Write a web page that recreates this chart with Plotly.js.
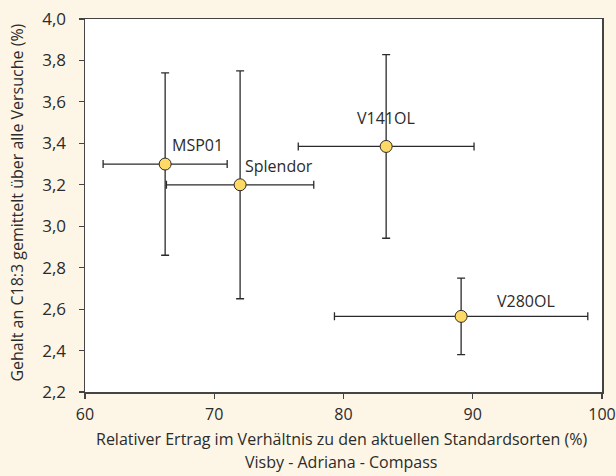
<!DOCTYPE html>
<html>
<head>
<meta charset="utf-8">
<script src="https://cdn.plot.ly/plotly-3.0.1.min.js"></script>
<style>html,body{margin:0;padding:0;background:#FDF6E6;}</style>
</head>
<body>
<div id="chart" style="width:616px;height:476px;"></div>
<script>
const names = ["MSP01", "Splendor", "V141OL", "V280OL"];
const yieldRel = [66.2, 72.0, 83.3, 89.1];
const yieldErr = [4.8, 5.7, 6.8, 9.8];
const c183 = [3.30, 3.20, 3.385, 2.565];
const c183Err = [0.44, 0.55, 0.443, 0.185];
const labelX = [68.7, 75.0, 83.3, 94.1];
const labelY = [3.39, 3.29, 3.52, 2.64];
const xTitle1 = "Relativer Ertrag im Verhältnis zu den aktuellen Standardsorten (%)";
const xTitle2 = "Visby - Adriana - Compass";
const yTitle = "Gehalt an C18:3 gemittelt über alle Versuche (%)";

const FONT = "Open Sans, Noto Sans, sans-serif";
const ink = "#2b2b2b";

const trace = {
  type: "scatter",
  mode: "markers",
  x: yieldRel,
  y: c183,
  error_x: {type: "data", array: yieldErr, visible: true, color: ink, thickness: 1.3, width: 4},
  error_y: {type: "data", array: c183Err, visible: true, color: ink, thickness: 1.3, width: 4},
  marker: {size: 12, color: "#FFD966", line: {color: ink, width: 1}},
  hoverinfo: "skip",
  showlegend: false
};

const annotations = names.map((n, i) => ({
  x: labelX[i], y: labelY[i], xref: "x", yref: "y",
  text: n, showarrow: false,
  font: {family: FONT, size: 16, color: ink}
}));
annotations.push(
  {x: 0.496, y: -0.127, xref: "paper", yref: "paper", xanchor: "center", yanchor: "middle",
   text: xTitle1, showarrow: false, font: {family: FONT, size: 16, color: ink}},
  {x: 0.496, y: -0.188, xref: "paper", yref: "paper", xanchor: "center", yanchor: "middle",
   text: xTitle2, showarrow: false, font: {family: FONT, size: 16, color: ink}},
  {x: -0.1306, y: 0.509, xref: "paper", yref: "paper", xanchor: "center", yanchor: "middle",
   textangle: -90, text: yTitle, showarrow: false, font: {family: FONT, size: 16, color: ink}}
);

const layout = {
  width: 616, height: 476,
  paper_bgcolor: "#FDF6E6",
  plot_bgcolor: "#FFFFFF",
  margin: {l: 85, r: 14, t: 19, b: 83.5},
  font: {family: FONT, size: 16, color: ink},
  showlegend: false,
  xaxis: {
    range: [60, 100], dtick: 10, tick0: 60,
    showgrid: false, zeroline: false,
    showline: true, mirror: true, linecolor: "#444", linewidth: 1.5,
    ticks: "outside", ticklen: 5, tickcolor: "#444", tickwidth: 1.2,
    ticklabelstandoff: 2,
    tickfont: {family: FONT, size: 16, color: ink}
  },
  yaxis: {
    range: [2.2, 4.0], dtick: 0.2, tick0: 2.2,
    tickformat: ".1f",
    showgrid: false, zeroline: false,
    showline: true, mirror: true, linecolor: "#444", linewidth: 1.5,
    ticks: "outside", ticklen: 5, tickcolor: "#444", tickwidth: 1.2,
    ticklabelstandoff: 9,
    tickfont: {family: FONT, size: 17, color: ink}
  },
  separators: ",.",
  annotations: annotations
};

Plotly.newPlot("chart", [trace], layout, {displayModeBar: false, staticPlot: true});
</script>
</body>
</html>
